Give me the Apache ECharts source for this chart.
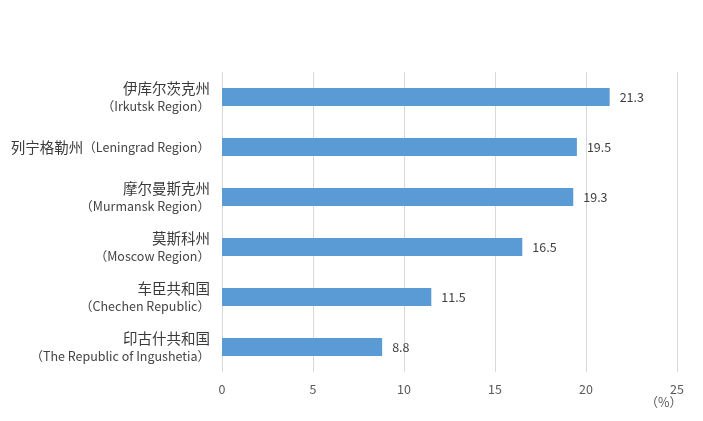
<!DOCTYPE html>
<html><head><meta charset="utf-8">
<script src="https://cdn.jsdelivr.net/npm/echarts@6/dist/echarts.min.js"></script>
<style>html,body{margin:0;padding:0;background:#fff}#c{width:703px;height:421px}</style>
</head><body><div id="c"></div>
<script>
const categoriesCn = ['伊库尔茨克州', '列宁格勒州', '摩尔曼斯克州', '莫斯科州', '车臣共和国', '印古什共和国'];
const categoriesEn = ['Irkutsk Region', 'Leningrad Region', 'Murmansk Region', 'Moscow Region', 'Chechen Republic', 'The Republic of Ingushetia'];
const singleLine = [false, true, false, false, false, false];
const values = [21.3, 19.5, 19.3, 16.5, 11.5, 8.8];
const xTicks = [0, 5, 10, 15, 20, 25];
const unitLabel = '（%）';

const labels = categoriesCn.map((c, i) => singleLine[i]
  ? '{cn|' + c + '}{en|（' + categoriesEn[i] + '）}'
  : '{cn|' + c + '}\n{en|（' + categoriesEn[i] + '）}');

const chart = echarts.init(document.getElementById('c'), null, {renderer: 'canvas'});
const font = '"Noto Sans CJK SC", "Noto Sans", sans-serif';
chart.setOption({
  animation: false,
  grid: {left: 222, right: 26, top: 72, bottom: 49, containLabel: false},
  xAxis: {
    type: 'value', min: xTicks[0], max: xTicks[xTicks.length - 1], interval: 5,
    axisLine: {show: false}, axisTick: {show: false},
    splitLine: {lineStyle: {color: '#d9d9d9', width: 1}},
    axisLabel: {color: '#595959', fontSize: 12.5, fontFamily: font, margin: 11}
  },
  yAxis: {
    type: 'category', inverse: true, data: labels,
    axisLine: {show: false}, axisTick: {show: false},
    axisLabel: {
      margin: 12, align: 'right', lineHeight: 17,
      rich: {
        cn: {fontSize: 14.5, color: '#3a3a3a', fontFamily: font, lineHeight: 18},
        en: {fontSize: 12.5, color: '#444', fontFamily: font, lineHeight: 17}
      }
    }
  },
  series: [{
    type: 'bar', data: values, barWidth: 18,
    itemStyle: {color: '#5b9bd5'},
    label: {show: true, position: 'right', distance: 10, color: '#404040', fontSize: 12.5, fontFamily: font,
      formatter: p => p.value.toFixed(1)}
  }],
  graphic: [{
    type: 'text', right: 21, top: 396,
    style: {text: unitLabel, fill: '#595959', fontSize: 12.5, fontFamily: font}
  }]
});
</script></body></html>
